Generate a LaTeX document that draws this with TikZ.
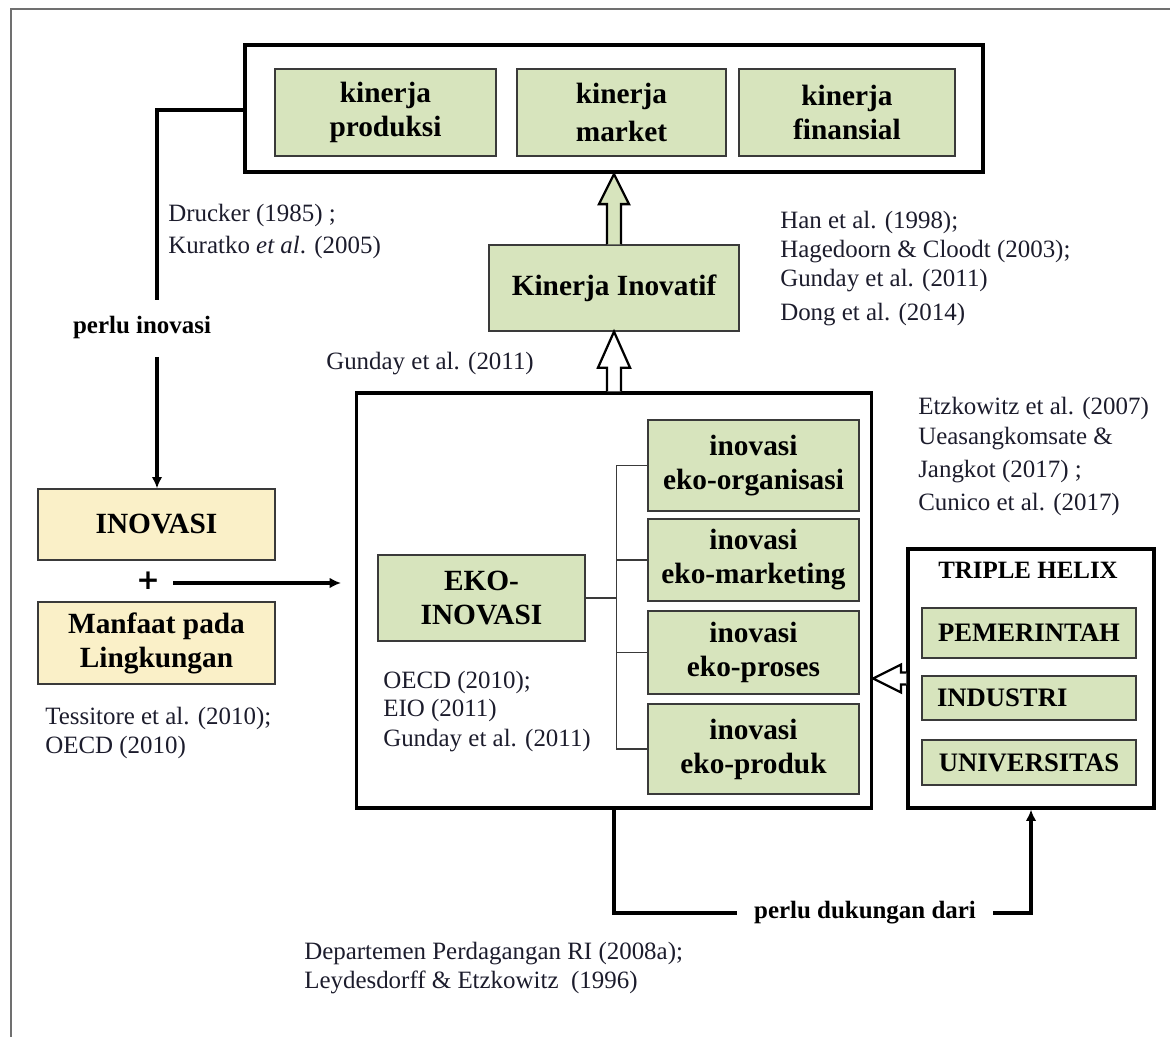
\documentclass[tikz,border=0pt]{standalone}
\usepackage{fontspec}
\setmainfont{LiberationSerif-Regular.ttf}[
  BoldFont=LiberationSerif-Bold.ttf,
  ItalicFont=LiberationSerif-Italic.ttf,
  BoldItalicFont=LiberationSerif-BoldItalic.ttf]
\newfontfamily\plusfont{DejaVu Sans}
\usetikzlibrary{calc,arrows.meta}
\definecolor{boxgreen}{HTML}{D7E4BD}
\definecolor{boxyellow}{HTML}{FAF0C8}
\definecolor{edge}{HTML}{3A3A3A}
\definecolor{citeink}{HTML}{1C1C2C}
\definecolor{pageframe}{HTML}{707070}

\begin{document}
\begin{tikzpicture}[x=0.75pt,y=-0.75pt,
  sz/.style 2 args={minimum width=#1*0.75pt, minimum height=#2*0.75pt},
  gbox/.style={draw=edge, line width=1pt, fill=boxgreen, inner sep=0pt, align=center,
               font=\fontsize{22}{25.5}\selectfont\bfseries},
  ybox/.style={gbox, fill=boxyellow},
  member/.style={draw=edge, line width=1pt, fill=boxgreen, inner sep=0pt,
                 font=\fontsize{20}{24}\selectfont\bfseries},
  frame/.style={draw=black, line width=2.4pt, inner sep=0pt},
  cite/.style={anchor=base west, inner sep=0pt, font=\fontsize{18.7}{22}\selectfont, text=citeink},
  lbl/.style={inner sep=0pt, font=\fontsize{18.7}{22}\selectfont\bfseries},
  conn/.style={line width=2.3pt, draw=black},
  tip/.style={-{Latex[length=8.5pt,width=8pt]}},
  blk/.style={line width=1.7pt, draw=black, line join=miter},
  tree/.style={line width=1pt, draw=edge},
]
\useasboundingbox (0,0) rectangle (1170,1037);

% page frame
\draw[pageframe, line width=1pt] (11,1037) -- (11,9) -- (1170,9);

% performance block
\node[frame, line width=3.2pt, sz={738}{127}] (top) at (614,108.5) {};
\node[gbox, sz={221}{87}] (kp) at (385.5,112.5) {kinerja\\produksi};
\node[gbox, sz={209}{87}] (km) at (621.5,112.5) {kinerja\\[3pt]market};
\node[gbox, sz={216}{87}] (kf) at (847,112.5) {kinerja\\finansial};

\node[gbox, sz={250}{86}] (ki) at (614,288) {Kinerja Inovatif};

% eco-innovation block
\node[frame, sz={515}{415}] (eko) at (614,600.5) {};
\node[gbox, sz={207}{86}] (ekoin) at (481.5,598) {EKO-\\INOVASI};
\node[gbox, sz={211}{91}] (io) at (753.5,465.5) {inovasi\\eko-organisasi};
\node[gbox, sz={211}{82}] (im) at (753.5,560) {inovasi\\eko-marketing};
\node[gbox, sz={211}{83}] (ip) at (753.5,652.5) {inovasi\\eko-proses};
\node[gbox, sz={211}{90}] (ipr) at (753.5,749) {inovasi\\eko-produk};

\coordinate (tx) at ($(io.west)+(-31,0)$);
\draw[tree] (ekoin.east) -- (tx |- ekoin.east);
\draw[tree] (io.west) -- (tx) |- (ipr.west);
\draw[tree] (im.west) -- (tx |- im.west);
\draw[tree] (ip.west) -- (tx |- ip.west);

% triple helix block
\node[frame, sz={246}{259}] (helix) at (1031,678.5) {};
\node[lbl] (th) at (1028,570) {TRIPLE HELIX};
\node[member, sz={214}{50}] (pem) at (1029,633) {PEMERINTAH};
\node[member, sz={214}{44}] (ind) at (1029,698) {};
\node[member, draw=none, fill=none, anchor=west] (indtxt) at ($(ind.west)+(15,0)$) {INDUSTRI};
\node[member, sz={214}{45}] (uni) at (1029,762.5) {UNIVERSITAS};

% innovation inputs
\node[ybox, sz={237}{71}] (inov) at (156.5,524.5) {INOVASI};
\node[ybox, sz={237}{82}] (manf) at (156.5,643) {Manfaat pada\\Lingkungan};
\node[inner sep=0pt, font=\fontsize{21}{21}\plusfont\bfseries] (plus) at (148,581) {+};
\coordinate (pa) at (173,583);
\coordinate (pb) at (341,583);
\draw[conn, tip] (pa) -- (pb);

% block arrows
\draw[blk, fill=boxgreen] ($(ki.north)+(-7,0)$) -- ($(top.south)+(-7,30)$)
  -- ($(top.south)+(-15,30)$) -- (top.south) -- ($(top.south)+(15,30)$)
  -- ($(top.south)+(7,30)$) -- ($(ki.north)+(7,0)$);
\draw[blk, fill=white] ($(eko.north)+(-7,0)$) -- ($(ki.south)+(-7,36)$)
  -- ($(ki.south)+(-16,36)$) -- (ki.south) -- ($(ki.south)+(16,36)$)
  -- ($(ki.south)+(7,36)$) -- ($(eko.north)+(7,0)$);
\coordinate (E) at (eko.east |- helix.west);
\draw[blk, fill=white] ($(helix.west)+(0,-6)$) -- ($(E)+(28,-6)$)
  -- ($(E)+(28,-14)$) -- (E) -- ($(E)+(28,14)$)
  -- ($(E)+(28,6)$) -- ($(helix.west)+(0,6)$);

% "perlu inovasi" feedback
\node[lbl] (pi) at (142,328) {perlu inovasi};
\coordinate (li1) at (157,300);
\coordinate (li2) at (157,357);
\draw[conn] (top.west |- 0,110) -| (li1);
\draw[conn, tip] (li2) -- (inov.north -| li2);

% "perlu dukungan dari" link
\node[lbl, inner xsep=13pt] (dl) at (865,913) {perlu dukungan dari};
\draw[conn] (eko.south) |- (dl.west);
\draw[conn, tip] (dl.east) -| (helix.south);

% references
\node[cite] (c1) at (168,222) {Drucker (1985) ;};
\node[cite] (c2) at (168,254) {Kuratko \textit{et al}. (2005)};
\node[cite] (c3) at (780,229) {Han et al. (1998);};
\node[cite] (c4) at (780,258) {Hagedoorn \& Cloodt (2003);};
\node[cite] (c5) at (780,287) {Gunday et al. (2011)};
\node[cite] (c6) at (780,321) {Dong et al. (2014)};
\node[cite] (c7) at (326,369) {Gunday et al. (2011)};
\node[cite] (c8) at (918,414) {Etzkowitz et al. (2007)};
\node[cite] (c9) at (918,444) {Ueasangkomsate \&};
\node[cite] (c10) at (918,477) {Jangkot (2017) ;};
\node[cite] (c11) at (918,510) {Cunico et al. (2017)};
\node[cite] (c12) at (383,688) {OECD (2010);};
\node[cite] (c13) at (383,716) {EIO (2011)};
\node[cite] (c14) at (383,746) {Gunday et al. (2011)};
\node[cite] (c15) at (45,724) {Tessitore et al. (2010);};
\node[cite] (c16) at (45,753) {OECD (2010)};
\node[cite] (c17) at (304,959) {Departemen Perdagangan RI (2008a);};
\node[cite] (c18) at (304,988) {Leydesdorff \& Etzkowitz\ \ (1996)};
\end{tikzpicture}
\end{document}
